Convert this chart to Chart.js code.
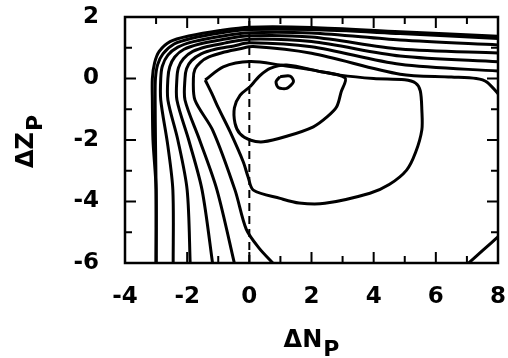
<!DOCTYPE html>
<html>
<head>
<meta charset="utf-8">
<script src="https://cdn.jsdelivr.net/npm/chart.js@4.4.1/dist/chart.umd.min.js"></script>
<style>
  html, body { margin: 0; padding: 0; background: #fff; }
  #chart { display: block; }
</style>
</head>
<body>
<canvas id="chart" width="508" height="358"></canvas>
<script>
/* ── Axis ticks ─────────────────────────────────── */
const xTicks = [-4, -2, 0, 2, 4, 6, 8];
const xMinor = [-3, -1, 1, 3, 5, 7];
const yTicks = [-6, -4, -2, 0, 2];
const yMinor = [-5, -3, -1, 1];

/* ── Contours, [ΔN, ΔZ] pairs ───────────────────── */
const loopMin = [[0.99, 0.06], [1.31, 0.08], [1.42, -0.1], [1.2, -0.32], [0.93, -0.29], [0.86, -0.1], [0.99, 0.06]];

const loopInner = [[0.02, -0.27], [0.35, 0.1], [0.67, 0.33], [1.2, 0.44], [2.2, 0.24], [3.08, 0.02], [2.95, -0.45],
  [2.81, -0.92], [2.5, -1.25], [2.06, -1.57], [1.2, -1.88], [0.45, -2.06], [0.02, -2.0], [-0.3, -1.8],
  [-0.46, -1.46], [-0.48, -0.95], [-0.3, -0.55], [0.02, -0.27]];

const loopOuter = [[-1.42, -0.05], [-0.84, 0.38], [0.02, 0.55], [0.99, 0.44], [2.0, 0.28], [2.92, 0.11], [4.0, 0.0],
  [5.0, -0.04], [5.35, -0.15], [5.5, -0.4], [5.55, -1.02], [5.55, -1.67], [5.35, -2.4], [5.06, -2.98],
  [4.5, -3.45], [3.88, -3.73], [2.43, -4.06], [1.6, -4.05], [0.99, -3.9], [0.13, -3.63], [-0.04, -3.2],
  [-0.2, -2.7], [-0.62, -1.73], [-1.0, -0.95], [-1.2, -0.5], [-1.42, -0.05]];

const line0 = [[-3.0, -6.1], [-3.0, -3.6], [-3.1, -2.0], [-3.12, -0.7], [-3.12, 0.0], [-3.05, 0.5], [-2.9, 0.88],
  [-2.55, 1.2], [-1.95, 1.38], [-0.94, 1.56], [0, 1.67], [2, 1.66], [4.85, 1.52], [8.05, 1.37]];
const line1 = [[-3.0, -6.1], [-3.0, -3.6], [-3.02, -2.0], [-3.03, -0.7], [-3.02, 0.0], [-2.95, 0.45], [-2.78, 0.8],
  [-2.42, 1.12], [-1.88, 1.3], [-0.94, 1.48], [0, 1.59], [2, 1.59], [4.85, 1.46], [8.05, 1.3]];
const line2 = [[-2.45, -6.1], [-2.46, -3.63], [-2.62, -2.2], [-2.85, -0.7], [-2.85, 0.0], [-2.8, 0.4], [-2.62, 0.76],
  [-2.3, 1.02], [-1.8, 1.2], [-1.0, 1.36], [0, 1.49], [2, 1.48], [4.85, 1.25], [8.05, 1.09]];
const line3 = [[-1.9, -6.1], [-2.0, -3.63], [-2.3, -2.0], [-2.62, -0.7], [-2.62, 0.0], [-2.56, 0.38], [-2.4, 0.7],
  [-2.1, 0.95], [-1.6, 1.12], [-0.9, 1.26], [0, 1.39], [2, 1.35], [4.85, 0.96], [8.05, 0.83]];
const line4 = [[-1.17, -6.1], [-1.52, -3.63], [-1.95, -2.0], [-2.33, -0.7], [-2.33, 0.0], [-2.28, 0.35], [-2.12, 0.64],
  [-1.82, 0.88], [-1.35, 1.04], [-0.8, 1.15], [0, 1.28], [2, 1.2], [4.85, 0.73], [8.05, 0.54]];
const line5 = [[-0.46, -6.1], [-1.04, -3.63], [-1.6, -2.0], [-2.07, -0.7], [-2.07, 0.0], [-2.02, 0.32], [-1.86, 0.58],
  [-1.55, 0.8], [-1.1, 0.95], [-0.5, 1.06], [0, 1.16], [2, 1.03], [4.85, 0.46], [8.05, 0.24]];
const line6 = [[0.8, -6.05], [0.3, -5.5], [-0.1, -4.9], [-0.46, -3.63], [-1.17, -1.7], [-1.75, -0.7], [-1.8, 0.0],
  [-1.75, 0.3], [-1.58, 0.52], [-1.3, 0.7], [-0.8, 0.86], [-0.3, 0.97], [0.12, 1.04], [2, 0.82], [4.85, 0.14],
  [6.5, 0.05], [7.3, 0.0], [7.65, -0.12], [8.05, -0.55]];
const lineCorner = [[7.0, -6.05], [7.5, -5.6], [8.05, -5.1]];

const contours = [loopMin, loopInner, loopOuter, line0, line1, line2, line3, line4, line5, line6, lineCorner];

/* ── Frame, inward ticks, dashed ΔN = 0 line, titles ── */
const FONT = '"DejaVu Sans", "Liberation Sans", sans-serif';

const framePlugin = {
  id: 'frame',
  beforeDatasetsDraw(chart) {
    const { ctx, chartArea: a, scales: { x } } = chart;
    ctx.save();
    ctx.strokeStyle = '#000';
    ctx.lineWidth = 2;
    ctx.setLineDash([8, 5]);
    const px = x.getPixelForValue(0);
    ctx.beginPath();
    ctx.moveTo(px, a.bottom);
    ctx.lineTo(px, a.top);
    ctx.stroke();
    ctx.restore();
  },
  afterDraw(chart) {
    const { ctx, chartArea: a, scales: { x, y } } = chart;
    ctx.save();
    ctx.strokeStyle = '#000';
    ctx.lineWidth = 2.5;
    ctx.strokeRect(a.left, a.top, a.right - a.left, a.bottom - a.top);

    ctx.lineWidth = 2;
    const tickX = (vals, len) => {
      vals.forEach(v => {
        const px = x.getPixelForValue(v);
        ctx.beginPath();
        ctx.moveTo(px, a.bottom); ctx.lineTo(px, a.bottom - len);
        ctx.moveTo(px, a.top);    ctx.lineTo(px, a.top + len);
        ctx.stroke();
      });
    };
    const tickY = (vals, len) => {
      vals.forEach(v => {
        const py = y.getPixelForValue(v);
        ctx.beginPath();
        ctx.moveTo(a.left, py);  ctx.lineTo(a.left + len, py);
        ctx.moveTo(a.right, py); ctx.lineTo(a.right - len, py);
        ctx.stroke();
      });
    };
    tickX(xTicks, 11); tickX(xMinor, 7);
    tickY(yTicks, 11); tickY(yMinor, 7);

    // axis titles with subscript P
    ctx.fillStyle = '#000';
    ctx.textBaseline = 'alphabetic';
    ctx.textAlign = 'left';
    ctx.font = `bold 24px ${FONT}`;
    const wN = ctx.measureText('ΔN').width;
    ctx.font = `bold 22px ${FONT}`;
    const wP = ctx.measureText('P').width;
    const cx = (a.left + a.right) / 2;
    const x0 = cx - (wN + wP + 1) / 2;
    ctx.font = `bold 24px ${FONT}`;
    ctx.fillText('ΔN', x0, 347);
    ctx.font = `bold 22px ${FONT}`;
    ctx.fillText('P', x0 + wN + 1, 356);

    ctx.save();
    ctx.translate(33, 168);
    ctx.rotate(-Math.PI / 2);
    ctx.font = `bold 24px ${FONT}`;
    const wZ = ctx.measureText('ΔZ').width;
    ctx.fillText('ΔZ', 0, 0);
    ctx.font = `bold 22px ${FONT}`;
    ctx.fillText('P', wZ + 1, 9);
    ctx.restore();

    ctx.restore();
  }
};

/* ── Chart ──────────────────────────────────────── */
const datasets = contours.map(c => ({
  data: c.map(([x, y]) => ({ x, y })),
  showLine: true,
  pointRadius: 0,
  borderColor: '#000',
  borderWidth: 3,
  tension: 0.3,
  fill: false
}));

const tickFont = { family: FONT, size: 23, weight: 'bold' };

new Chart(document.getElementById('chart'), {
  type: 'scatter',
  data: { datasets },
  options: {
    responsive: false,
    devicePixelRatio: 1,
    animation: false,
    events: [],
    layout: { padding: { top: 17, right: 10, left: 0, bottom: 0 } },
    plugins: { legend: { display: false }, tooltip: { enabled: false } },
    scales: {
      x: {
        type: 'linear', min: -4, max: 8,
        afterBuildTicks: s => { s.ticks = xTicks.map(v => ({ value: v })); },
        afterFit: s => { s.height = 95; },
        grid: { display: false, drawTicks: true, tickLength: 20 },
        border: { display: false },
        ticks: { color: '#000', font: tickFont, padding: 0, maxRotation: 0 }
      },
      y: {
        type: 'linear', min: -6, max: 2,
        afterBuildTicks: s => { s.ticks = yTicks.map(v => ({ value: v })); },
        afterFit: s => { s.width = 125; },
        grid: { display: false, drawTicks: true, tickLength: 26 },
        border: { display: false },
        ticks: { color: '#000', font: tickFont, padding: 0 }
      }
    }
  },
  plugins: [framePlugin]
});
</script>
</body>
</html>
